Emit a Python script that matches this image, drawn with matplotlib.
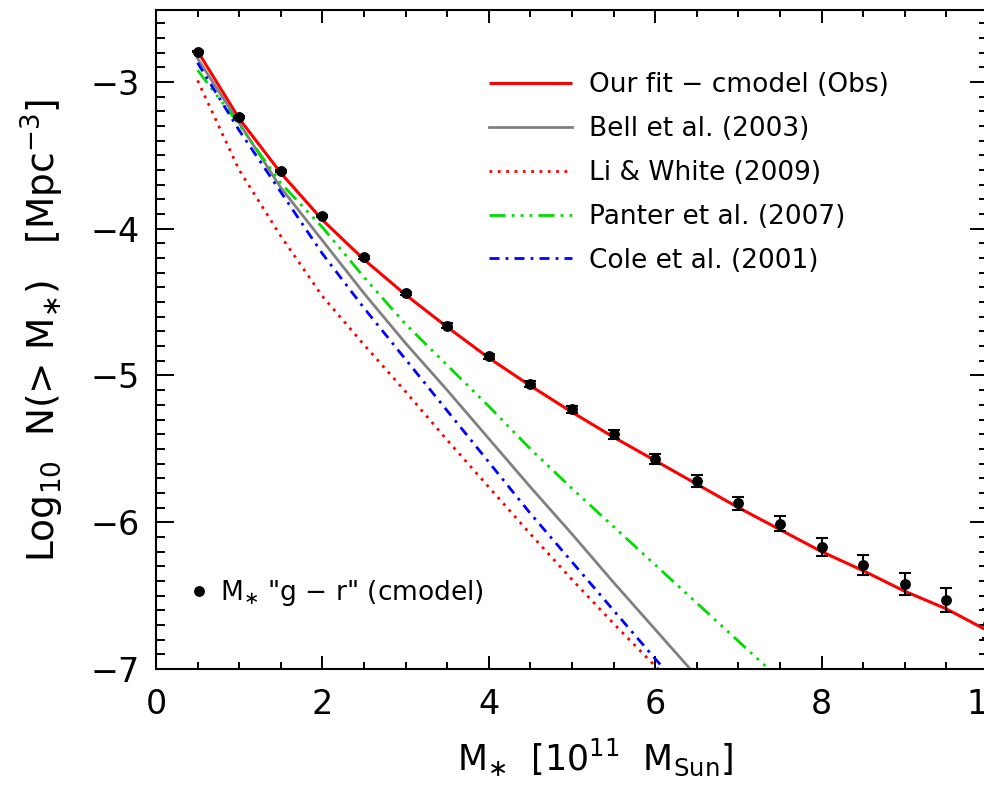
"""Cumulative stellar mass function: our cmodel fit vs literature."""

import matplotlib
matplotlib.use("Agg")
import matplotlib.pyplot as plt
from matplotlib.ticker import MultipleLocator

# --- data -------------------------------------------------------------------
MASS = [0.5, 1.0, 1.5, 2.0, 2.5, 3.0, 3.5, 4.0, 4.5, 5.0,
        5.5, 6.0, 6.5, 7.0, 7.5, 8.0, 8.5, 9.0, 9.5, 10.0]

# observed points, M* "g - r" (cmodel)
OBS_LOGN = [-2.795, -3.239, -3.607, -3.915, -4.195, -4.44, -4.66, -4.87, -5.06, -5.23,
            -5.40, -5.57, -5.72, -5.87, -6.01, -6.17, -6.29, -6.42, -6.53, -6.69]
OBS_ERR = [0.003, 0.004, 0.006, 0.008, 0.010, 0.012, 0.015, 0.018, 0.021, 0.025,
           0.030, 0.035, 0.042, 0.045, 0.051, 0.061, 0.067, 0.074, 0.082, 0.100]

# model curves sampled on MASS
FIT_LOGN = [-2.79, -3.25, -3.62, -3.94, -4.21, -4.45, -4.67, -4.88, -5.07, -5.25,
            -5.42, -5.58, -5.74, -5.90, -6.05, -6.20, -6.33, -6.47, -6.59, -6.74]
BELL_LOGN = [-2.84, -3.28, -3.72, -4.08, -4.44, -4.78, -5.10, -5.43, -5.76, -6.08,
             -6.41, -6.73, -7.05, -7.37, -7.69, -8.0, -8.3, -8.6, -8.9, -9.2]
LIWHITE_LOGN = [-2.99, -3.60, -4.05, -4.46, -4.79, -5.11, -5.44, -5.76, -6.08, -6.39,
                -6.69, -6.98, -7.27, -7.56, -7.85, -8.1, -8.4, -8.7, -9.0, -9.3]
PANTER_LOGN = [-2.92, -3.29, -3.69, -3.99, -4.33, -4.65, -4.93, -5.21, -5.50, -5.77,
               -6.03, -6.29, -6.55, -6.81, -7.07, -7.33, -7.6, -7.9, -8.2, -8.5]
COLE_LOGN = [-2.87, -3.33, -3.75, -4.17, -4.54, -4.89, -5.24, -5.59, -5.94, -6.27,
             -6.60, -6.93, -7.25, -7.57, -7.9, -8.2, -8.5, -8.8, -9.1, -9.4]

LABELS = ["Our fit \u2212 cmodel (Obs)", "Bell et al. (2003)", "Li & White (2009)",
          "Panter et al. (2007)", "Cole et al. (2001)"]
OBS_LABEL = 'M$_{\\ast}$ "g \u2212 r" (cmodel)'


def main() -> int:
    plt.rcParams["font.family"] = ["DejaVu Sans"]
    fig = plt.figure(figsize=(9.84, 7.87), dpi=100)
    # axes runs off the right edge, like the cropped original
    ax = fig.add_axes([0.1585, 0.1499, 0.8455, 0.8374])

    lines = []
    lines += ax.plot(MASS, FIT_LOGN, color="red", lw=2.2, solid_capstyle="butt")
    lines += ax.plot(MASS, BELL_LOGN, color="gray", lw=2.0)
    lines += ax.plot(MASS, LIWHITE_LOGN, color="red", lw=2.0, ls=(0, (1, 2)))
    lines += ax.plot(MASS, PANTER_LOGN, color="#00dd00", lw=2.0,
                     ls=(0, (5.8, 2.2, 1, 2.2, 1, 2.2, 1, 2.2)))
    lines += ax.plot(MASS, COLE_LOGN, color="blue", lw=2.0, ls=(0, (3.6, 2.2, 1, 2.2)))

    ax.errorbar(MASS, OBS_LOGN, yerr=OBS_ERR, fmt="none", ecolor="black",
                elinewidth=1.5, capsize=4, capthick=1.5, zorder=5, clip_on=False)
    pts, = ax.plot(MASS, OBS_LOGN, "o", color="black", ms=6.8, zorder=6, clip_on=False)

    ax.set_xlim(0, 10)
    ax.set_ylim(-7, -2.51)
    ax.xaxis.set_major_locator(MultipleLocator(2))
    ax.xaxis.set_minor_locator(MultipleLocator(0.5))
    ax.yaxis.set_major_locator(MultipleLocator(1))
    ax.yaxis.set_minor_locator(MultipleLocator(0.1))
    ax.tick_params(which="both", direction="in", top=True, right=True, width=1.4,
                   labelsize=24, colors="black")
    ax.tick_params(axis="x", which="major", length=9.5, pad=14)
    ax.tick_params(axis="x", which="minor", length=5)
    ax.tick_params(axis="y", which="major", length=13, pad=12)
    ax.tick_params(axis="y", which="minor", length=6.5)
    for sp in ax.spines.values():
        sp.set_linewidth(1.5)

    ax.set_xlabel("M$_{\\ast}$  [10$^{11}$  M$_{\\mathrm{Sun}}$]", fontsize=25)
    ax.xaxis.set_label_coords(0.528, -0.103)
    ax.set_ylabel("Log$_{10}$  N(> M$_{\\ast}$)   [Mpc$^{-3}$]", fontsize=27)
    ax.yaxis.set_label_coords(-0.108, 0.514)

    leg = ax.legend(lines, LABELS, loc="upper left", bbox_to_anchor=(0.400, 0.906),
                    frameon=False, fontsize=19, handlelength=3.15, handletextpad=0.64,
                    labelspacing=0.68, borderpad=0, borderaxespad=0)
    ax.add_artist(leg)
    ax.legend([pts], [OBS_LABEL], loc="upper left", bbox_to_anchor=(0.037, 0.138),
              frameon=False, fontsize=19, handlelength=0.95, handletextpad=0.32,
              borderpad=0, borderaxespad=0, numpoints=1)

    fig.savefig("out.png", dpi=100)
    plt.close(fig)
    return 0


if __name__ == "__main__":
    raise SystemExit(main())
